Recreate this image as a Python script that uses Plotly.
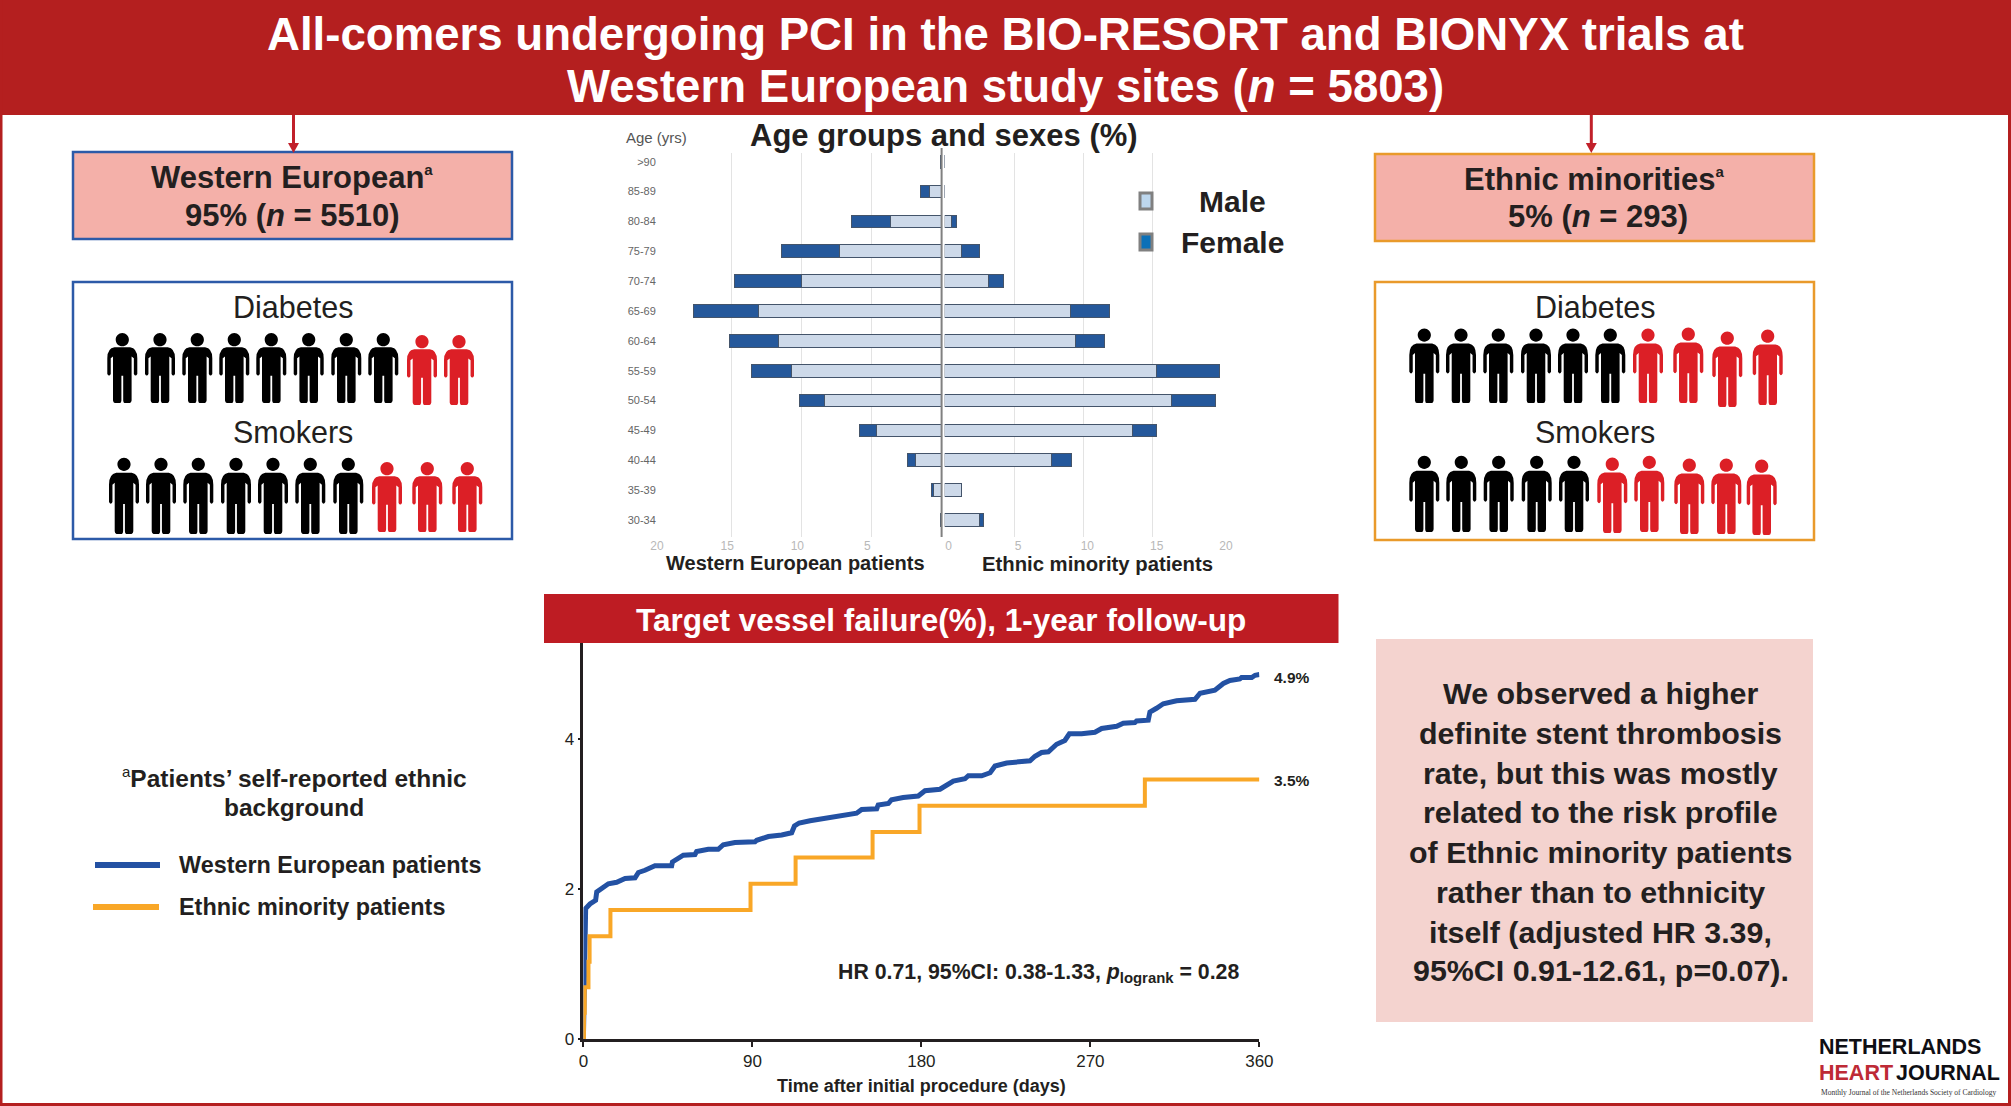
import plotly.graph_objects as go

W, H = 2011, 1106

# ---------- data ----------
age_groups = ["30-34", "35-39", "40-44", "45-49", "50-54", "55-59", "60-64",
              "65-69", "70-74", "75-79", "80-84", "85-89", ">90"]
we_male = [0.1, 0.58, 1.85, 4.65, 8.36, 10.73, 11.6, 13.05, 10.0, 7.27, 3.64, 0.87, 0.1]
we_female = [0.0, 0.15, 0.59, 1.2, 1.74, 2.83, 3.53, 4.62, 4.76, 4.13, 2.8, 0.63, 0.0]
em_male = [2.5, 1.21, 7.68, 13.53, 16.36, 15.26, 9.41, 9.08, 3.16, 1.21, 0.48, 0.0, 0.0]
em_female = [0.33, 0.0, 1.44, 1.77, 3.2, 4.54, 2.09, 2.8, 1.07, 1.29, 0.37, 0.0, 0.0]
age_ticks_left = [5, 10, 15, 20]
age_ticks_right = [0, 5, 10, 15, 20]

km_we_days = [0, 0.4, 0.85, 1.2, 3.5, 6.5, 7.1, 10.6, 13.3, 17.7, 22.2, 27.5, 29.3, 32.8, 38.1, 47,
              47.4, 53.2, 59.4, 60.3, 66.5, 71.8, 74.5, 80.7, 91.4, 92.3, 97.6, 98.5, 105.6, 110.9,
              112.4, 114.9, 120.7, 129.5, 138.4, 145.5, 148.2, 156.2, 157, 162.4, 164.1, 170.3,
              178.3, 181.9, 189.9, 195.2, 197, 203.2, 205, 212.1, 216.6, 219.2, 225.4, 237.8,
              240.5, 244, 247.6, 252, 256.4, 258.8, 265.3, 272.4, 276, 284, 287.5, 293.7, 294.6,
              300.8, 301.7, 305.2, 308.8, 315.9, 325.7, 328.4, 336.3, 340.8, 344.3, 349.6, 350.5,
              355.9, 357.7, 360]
km_we_vals = [0, 0.75, 1.63, 1.74, 1.80, 1.85, 1.96, 2.03, 2.07, 2.09, 2.14, 2.15, 2.22, 2.25, 2.31, 2.31,
              2.36, 2.45, 2.46, 2.50, 2.53, 2.53, 2.59, 2.62, 2.63, 2.65, 2.68, 2.70, 2.72, 2.75,
              2.84, 2.88, 2.91, 2.94, 2.97, 3.01, 3.06, 3.07, 3.12, 3.14, 3.19, 3.22,
              3.24, 3.31, 3.33, 3.41, 3.44, 3.47, 3.51, 3.51, 3.55, 3.64, 3.68, 3.71,
              3.77, 3.82, 3.83, 3.93, 3.98, 4.07, 4.07, 4.09, 4.14, 4.17, 4.21, 4.22, 4.24,
              4.25, 4.36, 4.41, 4.47, 4.51, 4.53, 4.61, 4.65, 4.74, 4.78, 4.80, 4.82,
              4.82, 4.85, 4.86]
km_em_days = [0, 0.3, 0.7, 2.7, 3.3, 14.4, 89, 113, 154, 179, 299, 360]
km_em_vals = [0, 0.35, 0.69, 1.03, 1.37, 1.72, 2.07, 2.42, 2.76, 3.11, 3.46, 3.46]
km_xticks = [0, 90, 180, 270, 360]
km_yticks = [0, 2, 4]

# ---------- colours ----------
RED = "#B41F1F"
BLUE_BOX = "#2C5AA8"
ORANGE_BOX = "#E99A2B"
PINK = "#F4B0A9"
PINK2 = "#F4D3CF"
INK = "#231F20"
ICON_RED = "#DC1F26"
MALE = "#CDD9E9"
FEMALE = "#25589B"
KM_BLUE = "#2351A3"
KM_ORANGE = "#F9A727"
FONT = "Liberation Sans"


def X(px):
    return px / W


def Y(py):
    return 1 - py / H


def rect(x0, y0, x1, y1, fill="rgba(0,0,0,0)", line=None, lw=0, layer="below"):
    return dict(type="rect", xref="paper", yref="paper", x0=X(x0), x1=X(x1), y0=Y(y0), y1=Y(y1),
                fillcolor=fill, line=dict(color=line or "rgba(0,0,0,0)", width=lw), layer=layer)


def seg(x0, y0, x1, y1, color, lw, layer="above"):
    return dict(type="line", xref="paper", yref="paper", x0=X(x0), x1=X(x1), y0=Y(y0), y1=Y(y1),
                line=dict(color=color, width=lw), layer=layer)


def poly(cmds, fill):
    parts = []
    for c in cmds:
        letter, nums = c[0], c[1:]
        xy = []
        for i in range(0, len(nums), 2):
            xy.append(f"{X(nums[i]):.6f},{Y(nums[i + 1]):.6f}")
        parts.append(letter + " ".join(xy))
    return dict(type="path", xref="paper", yref="paper", path=" ".join(parts),
                fillcolor=fill, line=dict(width=0), layer="above")


# half outline of a person, normalised: u from centre in widths, v from top in heights
half_body = [
    ("M", 0.0, 0.205), ("L", 0.26, 0.205), ("Q", 0.5, 0.22, 0.5, 0.36), ("L", 0.5, 0.585),
    ("Q", 0.44, 0.63, 0.385, 0.585), ("L", 0.385, 0.36), ("L", 0.31, 0.335), ("L", 0.31, 0.965),
    ("Q", 0.3, 1.0, 0.25, 1.0), ("L", 0.07, 1.0), ("Q", 0.035, 1.0, 0.03, 0.965), ("L", 0.03, 0.61),
    ("L", 0.0, 0.61),
]


def person(cx, top, bottom, color, w=30):
    h = bottom - top
    cmds = []
    pts = list(half_body)
    for c in pts:
        nums = []
        for i in range(1, len(c), 2):
            nums += [cx + c[i] * w, top + c[i + 1] * h]
        cmds.append((c[0], *nums))
    rev = pts[::-1]
    for idx in range(len(rev) - 1):
        cur, nxt = rev[idx], rev[idx + 1]
        end = nxt[-2:]
        if cur[0] == "Q":
            cmds.append(("Q", cx - cur[1] * w, top + cur[2] * h, cx - end[0] * w, top + end[1] * h))
        else:
            cmds.append(("L", cx - end[0] * w, top + end[1] * h))
    cmds.append(("Z",))
    r = 6.6
    cy = top + 0.095 * h
    k = 0.5523 * r
    cmds += [("M", cx - r, cy),
             ("C", cx - r, cy - k, cx - k, cy - r, cx, cy - r),
             ("C", cx + k, cy - r, cx + r, cy - k, cx + r, cy),
             ("C", cx + r, cy + k, cx + k, cy + r, cx, cy + r),
             ("C", cx - k, cy + r, cx - r, cy + k, cx - r, cy),
             ("Z",)]
    return poly(cmds, color)


def ann(text, x, y, size, color=INK, anchor="center", family=FONT, bold=False):
    t = f"<b>{text}</b>" if bold else text
    return dict(text=t, x=X(x), y=Y(y), xref="paper", yref="paper", xanchor=anchor, yanchor="middle",
                showarrow=False, align="center", font=dict(family=family, size=size, color=color))


SUP_A = '<sup><span style="font-size:15px">a</span></sup>'

shapes = []
annotations = []

# frame and header
shapes += [
    rect(0, 0, W, 115, fill=RED),
    rect(0, 0, 2.5, H, fill=RED),
    rect(W - 3, 0, W, H, fill=RED),
    rect(0, H - 3, W, H, fill=RED),
]
annotations += [
    ann("All-comers undergoing PCI in the BIO-RESORT and BIONYX trials at", 1005.5, 35, 45.6, "white", bold=True),
    ann("Western European study sites (<i>n</i> = 5803)", 1005.5, 86, 45.6, "white", bold=True),
]

# arrows
for ax in (293.5, 1591.3):
    shapes.append(seg(ax, 115, ax, 145, "#C1202A", 3))
    shapes.append(poly([("M", ax - 5.5, 143), ("L", ax + 5.5, 143), ("L", ax, 153), ("Z",)], "#C1202A"))

# left boxes
shapes += [rect(73, 152, 512, 239, PINK, BLUE_BOX, 2.5), rect(73, 282, 512, 539, "white", BLUE_BOX, 2.5)]
annotations += [
    ann("Western European" + SUP_A, 292, 177, 31, bold=True),
    ann("95% (<i>n</i> = 5510)", 292, 215, 31, bold=True),
    ann("Diabetes", 293, 307, 30.5),
    ann("Smokers", 293, 432, 30.5),
]
# right boxes
shapes += [rect(1375, 154, 1814, 241, PINK, ORANGE_BOX, 2.5), rect(1375, 282, 1814, 540, "white", ORANGE_BOX, 2.5)]
annotations += [
    ann("Ethnic minorities" + SUP_A, 1594, 179, 31, bold=True),
    ann("5% (<i>n</i> = 293)", 1598, 217, 31, bold=True),
    ann("Diabetes", 1595, 307, 30.5),
    ann("Smokers", 1595, 432, 30.5),
]

# icons: (cx, top, bottom, colour)
for cx in (122.3, 160, 197.3, 234.3, 271.3, 308.7, 346.3, 383.3):
    shapes.append(person(cx, 333, 403, "black"))
for cx in (422, 459):
    shapes.append(person(cx, 335, 405, ICON_RED))
for cx in (124, 161, 198.3, 236, 273, 310.3, 348.3):
    shapes.append(person(cx, 457, 534, "black"))
for cx in (387, 427.3, 467.3):
    shapes.append(person(cx, 462, 532, ICON_RED))
for cx in (1424.3, 1461, 1498.3, 1536, 1573, 1610.3):
    shapes.append(person(cx, 328, 403, "black"))
for cx, t, b in ((1648, 328, 403), (1688.3, 327, 403), (1727.3, 331, 407), (1767.7, 329, 405)):
    shapes.append(person(cx, t, b, ICON_RED))
for cx in (1424.3, 1461.3, 1498.7, 1536.7, 1574):
    shapes.append(person(cx, 455, 532, "black"))
for cx, t, b in ((1612.3, 457, 533), (1649.3, 455, 532), (1689.3, 458, 534), (1726.3, 458, 534), (1761.7, 459, 535)):
    shapes.append(person(cx, t, b, ICON_RED))

# age pyramid text
annotations += [
    ann("Age groups and sexes (%)", 944, 135, 31, bold=True),
    ann("Age (yrs)", 656, 137, 15, "#555555"),
    ann("Western European patients", 795, 563, 20, bold=True),
    ann("Ethnic minority patients", 1097, 564, 20.3, bold=True),
    ann("Male", 1232, 202, 30, bold=True),
    ann("Female", 1232, 242, 30, bold=True),
]
shapes += [
    rect(1140, 193, 1152, 209, "#BDD7EE", "#808080", 3, layer="above"),
    rect(1140, 234, 1152, 250, "#0B70B8", "#808080", 3, layer="above"),
    seg(941.6, 148, 941.6, 537, "#808080", 2),
]

# KM banner and text
shapes.append(rect(544, 594, 1338.5, 643, "#BE1C23"))
annotations += [
    ann("Target vessel failure(%), 1-year follow-up", 941, 620, 31.5, "white", bold=True),
    ann("4.9%", 1272, 677, 15.5, anchor="left", bold=True),
    ann("3.5%", 1272, 780, 15.5, anchor="left", bold=True),
    ann("HR 0.71, 95%CI: 0.38-1.33, <i>p</i><sub>logrank</sub> = 0.28", 1038, 973, 21.3, bold=True),
]

# footnote and line key
annotations += [
    ann('<sup><span style="font-size:15px;font-weight:normal">a</span></sup>Patients’ self-reported ethnic', 294, 777, 24.5, bold=True),
    ann("background", 294, 807, 24.5, bold=True),
    ann("Western European patients", 177, 865, 23.4, anchor="left", bold=True),
    ann("Ethnic minority patients", 177, 907, 23.4, anchor="left", bold=True),
]
shapes += [seg(95, 865, 160, 865, KM_BLUE, 6), seg(93, 907, 159, 907, KM_ORANGE, 6)]

# conclusion box
shapes.append(rect(1376, 639, 1813, 1022, PINK2))
conclusion = ["We observed a higher", "definite stent thrombosis", "rate, but this was mostly",
              "related to the risk profile", "of Ethnic minority patients", "rather than to ethnicity",
              "itself (adjusted HR 3.39,", "95%CI 0.91-12.61, p=0.07)."]
for line, yy in zip(conclusion, (693, 733, 773, 812, 852, 892, 932, 970)):
    annotations.append(ann(line, 1600.5, yy, 30.4, bold=True))

# journal logo
annotations += [
    ann("NETHERLANDS", 1817, 1047, 21.5, "#0F0F14", "left", FONT, True),
    ann("HEART", 1817, 1073, 21.5, "#BE2A36", "left", FONT, True),
    ann("JOURNAL", 1894, 1073, 21.5, "#0F0F14", "left", FONT, True),
    ann("Monthly Journal of the Netherlands Society of Cardiology", 1819, 1092, 7.5, "#333333", "left", "Liberation Serif"),
]

fig = go.Figure()

bar_line = dict(color="#44546A", width=1)
pyr_layout = dict(orientation="h", showlegend=False, hoverinfo="skip")
fig.add_bar(y=age_groups, x=we_male, marker=dict(color=MALE, line=bar_line), xaxis="x", yaxis="y", **pyr_layout)
fig.add_bar(y=age_groups, x=we_female, marker=dict(color=FEMALE, line=bar_line), xaxis="x", yaxis="y", **pyr_layout)
fig.add_bar(y=age_groups, x=em_male, marker=dict(color=MALE, line=bar_line), xaxis="x2", yaxis="y2", **pyr_layout)
fig.add_bar(y=age_groups, x=em_female, marker=dict(color=FEMALE, line=bar_line), xaxis="x2", yaxis="y2", **pyr_layout)

fig.add_scatter(x=km_we_days, y=km_we_vals, mode="lines", xaxis="x3", yaxis="y3", showlegend=False, cliponaxis=False,
                line=dict(color=KM_BLUE, width=5))
fig.add_scatter(x=km_em_days, y=km_em_vals, mode="lines", xaxis="x3", yaxis="y3", showlegend=False, cliponaxis=False,
                line=dict(color=KM_ORANGE, width=4, shape="hv"))

age_y_dom = [Y(537), Y(153)]
age_y_range = [-0.57, 12.29]
tick_font = dict(family=FONT, size=12, color="#B8B8B8")
GRID = "#E3E3E3"
fig.update_layout(
    width=W, height=H, autosize=False, margin=dict(l=0, r=0, t=0, b=0),
    paper_bgcolor="white", plot_bgcolor="rgba(0,0,0,0)", barmode="stack", bargap=0.575,
    font=dict(family=FONT, color=INK), shapes=shapes, annotations=annotations,
    xaxis=dict(domain=[X(661), X(941.6)], range=[20, 0], tickvals=age_ticks_left, anchor="y", showgrid=True,
               gridcolor=GRID, gridwidth=1, zeroline=False, showline=False, ticks="",
               tickfont=tick_font, ticklabelshift=4, automargin=False),
    yaxis=dict(domain=age_y_dom, type="category", categoryorder="array", categoryarray=age_groups,
               range=age_y_range, anchor="x", showgrid=False, zeroline=False, showline=False,
               ticks="outside", ticklen=2, tickcolor="rgba(0,0,0,0)", automargin=False,
               tickfont=dict(family=FONT, size=11, color="#666666")),
    xaxis2=dict(domain=[X(944.7), X(1222)], range=[0, 20], tickvals=age_ticks_right, anchor="y2", showgrid=True,
                gridcolor=GRID, gridwidth=1, zeroline=False, showline=False, ticks="",
                tickfont=tick_font, ticklabelshift=4, automargin=False),
    yaxis2=dict(domain=age_y_dom, type="category", categoryorder="array", categoryarray=age_groups,
                range=age_y_range, anchor="x2", showgrid=False, zeroline=False, showline=False,
                showticklabels=False, automargin=False),
    xaxis3=dict(domain=[X(583.4), X(1259.4)], range=[0, 360], tickvals=km_xticks, anchor="y3", showgrid=False,
                zeroline=False, showline=True, linecolor="#231F20", linewidth=2.5, ticks="outside", ticklen=5,
                tickwidth=2, tickcolor="#231F20", tickfont=dict(family=FONT, size=17, color=INK), automargin=False,
                title=dict(text="<b>Time after initial procedure (days)</b>", standoff=10,
                           font=dict(family=FONT, size=18, color=INK))),
    yaxis3=dict(domain=[Y(1039), Y(643)], range=[0, 5.28], tickvals=km_yticks, anchor="x3", showgrid=False,
                zeroline=False, showline=True, linecolor="#231F20", linewidth=2.5, ticks="outside", ticklen=3,
                tickwidth=2, tickcolor="#231F20", tickfont=dict(family=FONT, size=17, color=INK), automargin=False),
)

fig.write_html("out.html", config={"displayModeBar": False},
               post_script="document.body.style.margin='0';document.body.style.overflow='hidden';")
